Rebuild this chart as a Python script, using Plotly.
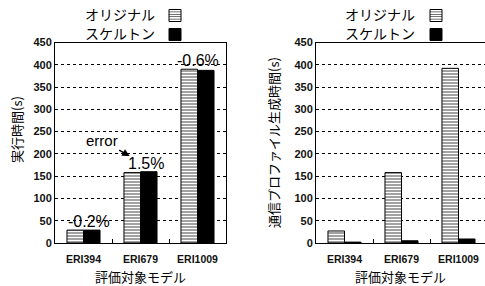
import plotly.graph_objects as go

W, H = 485, 286

categories = ["ERI394", "ERI679", "ERI1009"]
exec_original = [29, 158, 390]
exec_skeleton = [28.9, 160, 387.5]
exec_diff_labels = ["-0.2%", "1.5%", "-0.6%"]
prof_original = [27, 158, 392]
prof_skeleton = [2, 5, 9]
y_ticks = [0, 50, 100, 150, 200, 250, 300, 350, 400, 450]

legend_names = ["オリジナル", "スケルトン"]
x_title = "評価対象モデル"
y_title_left = "実行時間(s)"
y_title_right = "通信プロファイル生成時間(s)"

JP = "Noto Sans CJK JP"
LAT = "Liberation Sans"


def px_x(p):
    return p / W


def px_y(p):
    return 1 - p / H


orig_marker = dict(
    color="white",
    line=dict(color="black", width=1),
    pattern=dict(shape="-", fgcolor="#444444", bgcolor="white", size=3, solidity=0.35),
)
skel_marker = dict(color="black", line=dict(color="black", width=1))

fig = go.Figure()
fig.add_trace(go.Bar(x=categories, y=exec_original, name="", marker=orig_marker,
                     xaxis="x", yaxis="y", legend="legend"))
fig.add_trace(go.Bar(x=categories, y=exec_skeleton, name="", marker=skel_marker,
                     xaxis="x", yaxis="y", legend="legend"))
fig.add_trace(go.Bar(x=categories, y=prof_original, name="", marker=orig_marker,
                     xaxis="x2", yaxis="y2", legend="legend2"))
fig.add_trace(go.Bar(x=categories, y=prof_skeleton, name="", marker=skel_marker,
                     xaxis="x2", yaxis="y2", legend="legend2"))

ydom = [px_y(243), px_y(42.5)]
tickfont = dict(family=LAT, size=11, color="#111111", weight="bold")
yax = dict(range=[0, 450], tickvals=y_ticks, showgrid=True, gridcolor="black",
           griddash="dot", gridwidth=1, showline=True, linecolor="black", linewidth=1,
           ticks="", tickfont=tickfont, zeroline=False, fixedrange=True, automargin=False)
xax = dict(showline=True, linecolor="black", linewidth=1, mirror=True,
           ticks="inside", tickson="boundaries", ticklen=4, tickcolor="black",
           tickfont=dict(family=LAT, size=10.5, color="#111111", weight="bold"),
           ticklabelstandoff=6, showgrid=False, fixedrange=True,
           automargin=False)

fig.update_layout(
    template="none",
    width=W, height=H,
    margin=dict(l=0, r=0, t=0, b=0, autoexpand=False),
    paper_bgcolor="white", plot_bgcolor="white",
    barmode="group", bargap=0.42, bargroupgap=0,
    xaxis=dict(domain=[px_x(55), px_x(226)], range=[-0.5, 2.5], anchor="y", **xax),
    yaxis=dict(domain=ydom, mirror=True, anchor="x", **yax),
    xaxis2=dict(domain=[px_x(316), 1.0], range=[-0.5, -0.5 + 169 / 57], anchor="y2", **xax),
    yaxis2=dict(domain=ydom, anchor="x2", mirror=False, **yax),
    legend=dict(x=px_x(155), y=px_y(1), xanchor="left", yanchor="top",
                bgcolor="rgba(0,0,0,0)", font=dict(size=10), tracegroupgap=0,
                itemwidth=30),
    legend2=dict(x=px_x(416), y=px_y(1), xanchor="left", yanchor="top",
                 bgcolor="rgba(0,0,0,0)", font=dict(size=10), tracegroupgap=0,
                 itemwidth=30),
    showlegend=True,
)

ann = []
# legend texts (left of swatches)
for lx in (157, 417):
    for name, ly in zip(legend_names, (14, 33)):
        ann.append(dict(x=px_x(lx), y=px_y(ly), xref="paper", yref="paper", text=name,
                        showarrow=False, xanchor="right", yanchor="middle",
                        font=dict(family=JP, size=14, color="black")))
# axis titles
for cx in (140, 400):
    ann.append(dict(x=px_x(cx), y=px_y(276), xref="paper", yref="paper", text=x_title,
                    showarrow=False, xanchor="center", yanchor="middle",
                    font=dict(family=JP, size=13, color="black")))
ann.append(dict(x=px_x(16), y=px_y(130), xref="paper", yref="paper", text=y_title_left,
                showarrow=False, textangle=-90, xanchor="center", yanchor="middle",
                font=dict(family=JP, size=13, color="black")))
ann.append(dict(x=px_x(273), y=px_y(143), xref="paper", yref="paper", text=y_title_right,
                showarrow=False, textangle=-90, xanchor="center", yanchor="middle",
                font=dict(family=JP, size=13, color="black")))
# percentage labels
shifts = [5, 5, 0]
for i, (lab, a, b) in enumerate(zip(exec_diff_labels, exec_original, exec_skeleton)):
    ann.append(dict(x=categories[i], y=max(a, b), xref="x", yref="y", text=lab,
                    showarrow=False, xanchor="center", yanchor="bottom", xshift=shifts[i],
                    yshift=-2, font=dict(family=LAT, size=16, color="black")))
# error arrow
ann.append(dict(x=0.81, y=195, xref="x", yref="y", text="error", showarrow=True,
                arrowhead=2, arrowsize=1, arrowwidth=1.5, arrowcolor="black",
                ax=-28, ay=-16, font=dict(family=LAT, size=15, color="black")))
fig.update_layout(annotations=ann)

fig.write_html(
    "out.html",
    config={"displayModeBar": False},
    post_script="document.body.style.margin='0';document.body.style.overflow='hidden';",
)
